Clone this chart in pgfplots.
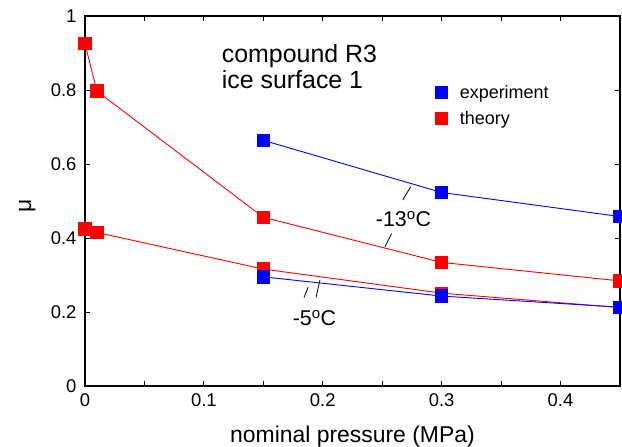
\documentclass[border=0pt]{standalone}
\usepackage{fontspec}
\setmainfont{Liberation Sans}
\usepackage{pgfplots}
\pgfplotsset{compat=1.18}

% friction coefficient vs nominal pressure, compound R3 on ice surface 1
\pgfplotstableread{
p      mu
0      0.925
0.01   0.797
0.15   0.456
0.30   0.334
0.45   0.284
}\theoryCold
\pgfplotstableread{
p      mu
0      0.424
0.01   0.415
0.15   0.316
0.30   0.251
0.45   0.212
}\theoryWarm
\pgfplotstableread{
p      mu
0.15   0.664
0.30   0.523
0.45   0.458
}\expCold
\pgfplotstableread{
p      mu
0.15   0.295
0.30   0.243
0.45   0.213
}\expWarm

\begin{document}
\begin{tikzpicture}
\begin{axis}[
  width=535bp, height=370bp, scale only axis,
  xmin=0, xmax=0.45, ymin=0, ymax=1,
  xtick={0,0.1,0.2,0.3,0.4},
  minor xtick={0.05,0.15,0.25,0.35},
  ytick={0,0.2,0.4,0.6,0.8,1},
  tick align=inside,
  major tick length=5bp, minor tick length=5bp,
  every tick/.style={black, line width=0.9bp},
  axis line style={line width=1.2bp},
  /pgf/number format/assume math mode=true,
  ticklabel style={font=\fontsize{18.5}{20}\selectfont},
  xticklabel style={yshift=-4bp},
  yticklabel style={xshift=-5bp},
  xlabel={nominal pressure (MPa)},
  ylabel={μ},
  label style={font=\fontsize{23}{25}\selectfont},
  xlabel style={at={(axis description cs:0.5,-0.138)}, anchor=center},
  ylabel style={at={(axis description cs:-0.108,0.486)}, anchor=center, rotate=0},
  legend style={draw=none, fill=none, at={(axis description cs:0.65,0.758)}, anchor=west,
    font=\fontsize{18}{20}\selectfont, row sep=8bp,
    /tikz/every odd column/.append style={column sep=10bp}},
  legend cell align=left,
  legend image code/.code={\draw[#1] plot coordinates {(0.2cm,0cm)};},
]
\addlegendimage{only marks, mark=square*, mark size=6pt, color=blue}
\addlegendentry{experiment}
\addlegendimage{only marks, mark=square*, mark size=6pt, color=red}
\addlegendentry{theory}

\pgfplotsset{every axis plot/.append style={line width=0.9bp, mark=square*, mark size=6.2pt, forget plot}}
\addplot[red, mark options={fill=red}] table[x=p, y=mu] {\theoryCold};
\addplot[red, mark options={fill=red}] table[x=p, y=mu] {\theoryWarm};
\addplot[blue, mark options={fill=blue}] table[x=p, y=mu] {\expCold};
\addplot[blue, mark options={fill=blue}] table[x=p, y=mu] {\expWarm};

% temperature labels with pointer strokes
\draw[black, line width=0.8bp] (axis cs:0.2739,0.5383) -- (axis cs:0.2672,0.5023);
\draw[black, line width=0.8bp] (axis cs:0.2579,0.4122) -- (axis cs:0.2523,0.3760);
\node[font=\fontsize{21.5}{22}\selectfont] at (axis cs:0.2679,0.4509) {-13\textsuperscript{o}C};
\draw[black, line width=0.8bp] (axis cs:0.1878,0.2678) -- (axis cs:0.1842,0.2391);
\draw[black, line width=0.8bp] (axis cs:0.1976,0.2859) -- (axis cs:0.1943,0.2391);
\node[font=\fontsize{21.5}{22}\selectfont] at (axis cs:0.1930,0.1830) {-5\textsuperscript{o}C};

\node[anchor=base west, font=\fontsize{25}{27}\selectfont, inner sep=0pt] at (axis cs:0.115,0.8756) {compound R3};
\node[anchor=base west, font=\fontsize{25}{27}\selectfont, inner sep=0pt] at (axis cs:0.115,0.805) {ice surface 1};
\end{axis}
\pgfresetboundingbox
\path ([shift={(-85bp,-61bp)}]current axis.south west) rectangle ([shift={(2bp,16bp)}]current axis.north east);
\end{tikzpicture}
\end{document}
